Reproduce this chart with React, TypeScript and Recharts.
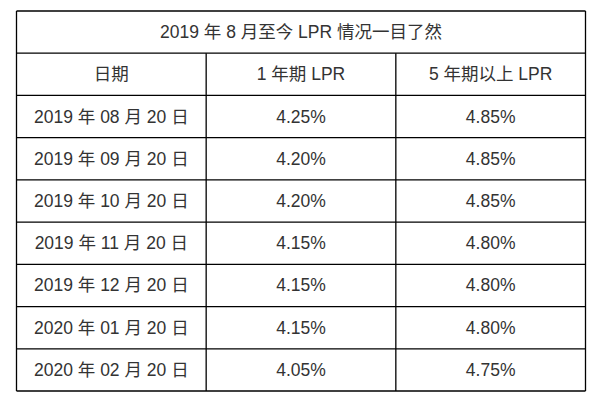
import { ScatterChart, Scatter, XAxis, YAxis, ReferenceLine } from 'recharts';

const title = '2019 年 8 月至今 LPR 情况一目了然';
const headers = ['日期', '1 年期 LPR', '5 年期以上 LPR'];
const dates = [
  '2019 年 08 月 20 日',
  '2019 年 09 月 20 日',
  '2019 年 10 月 20 日',
  '2019 年 11 月 20 日',
  '2019 年 12 月 20 日',
  '2020 年 01 月 20 日',
  '2020 年 02 月 20 日',
];
const lpr1y = [4.25, 4.2, 4.2, 4.15, 4.15, 4.15, 4.05];
const lpr5y = [4.85, 4.85, 4.85, 4.8, 4.8, 4.8, 4.75];

const COLS = 3;
const ROWS = dates.length + 2;

// one point per table cell, placed at the centre of its cell
const cells = [
  { x: COLS / 2, y: 0.5, text: title },
  ...headers.map((h, i) => ({ x: i + 0.5, y: 1.5, text: h })),
  ...dates.flatMap((d, r) => [
    { x: 0.5, y: r + 2.5, text: d },
    { x: 1.5, y: r + 2.5, text: lpr1y[r].toFixed(2) + '%' },
    { x: 2.5, y: r + 2.5, text: lpr5y[r].toFixed(2) + '%' },
  ]),
];

const rowLines = Array.from({ length: ROWS + 1 }, (_, i) => i);
const colLines = Array.from({ length: COLS - 1 }, (_, i) => i + 1);

const font = '"Liberation Sans", Arial, "Noto Sans CJK SC", sans-serif';
const line = { stroke: '#000', strokeWidth: 1.3 };

const CellText = (props: any) => (
  <text
    x={props.cx}
    y={props.cy}
    textAnchor="middle"
    dominantBaseline="central"
    fontFamily={font}
    fontSize={17.5}
    fill="#333"
  >
    {props.payload.text}
  </text>
);

export default function App() {
  return (
    <div style={{ position: 'absolute', left: 0, top: 0, background: '#fff' }}>
      <ScatterChart
        width={601}
        height={411}
        margin={{ top: 11, right: 15.5, bottom: 20, left: 16.5 }}
      >
        <XAxis type="number" dataKey="x" domain={[0, COLS]} hide />
        <YAxis type="number" dataKey="y" domain={[0, ROWS]} reversed hide />
        {rowLines.map((r) => (
          <ReferenceLine key={'r' + r} y={r} {...line} />
        ))}
        <ReferenceLine x={0} {...line} />
        <ReferenceLine x={COLS} {...line} />
        {colLines.map((c) => (
          <ReferenceLine
            key={'c' + c}
            segment={[{ x: c, y: 1 }, { x: c, y: ROWS }]}
            {...line}
          />
        ))}
        <Scatter data={cells} shape={CellText} isAnimationActive={false} />
      </ScatterChart>
    </div>
  );
}
